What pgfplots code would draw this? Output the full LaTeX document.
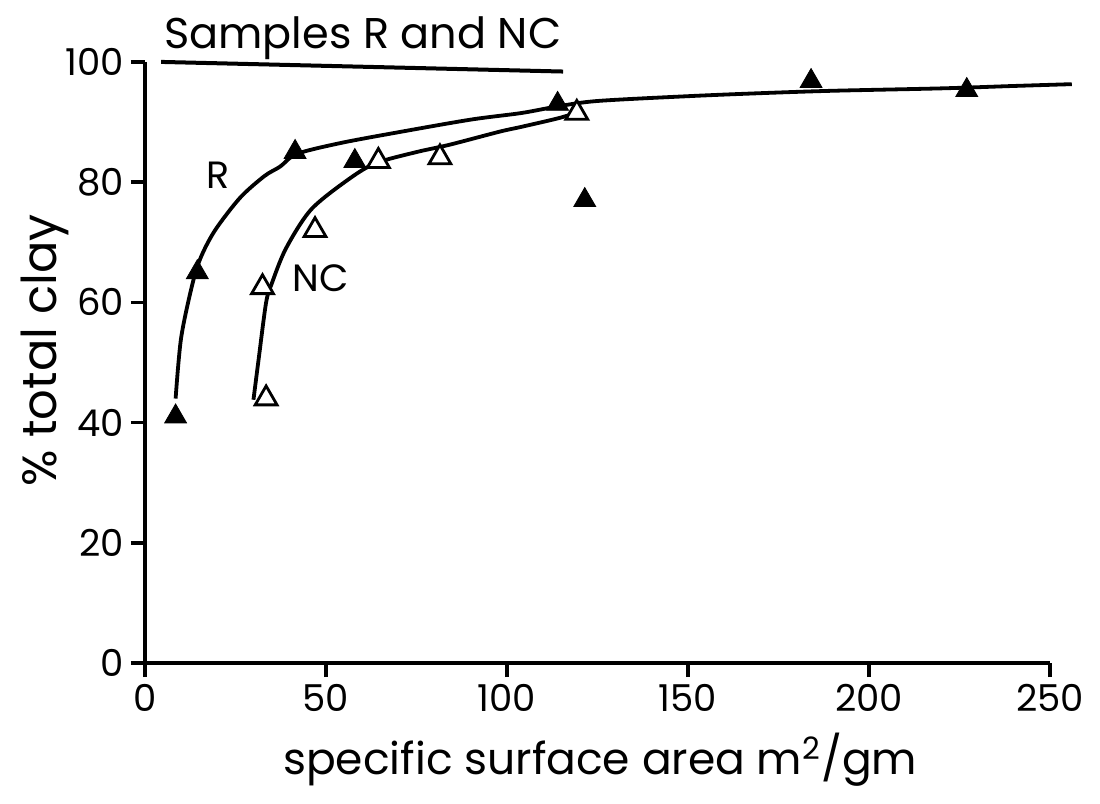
\documentclass[border=0pt]{standalone}
\usepackage{fontspec}
\setmainfont{Poppins}
\usepackage{pgfplots}
\pgfplotsset{compat=1.18}
\begin{document}
\begin{tikzpicture}
\begin{axis}[
  scale only axis, width=452.5pt, height=300.5pt,
  xmin=0, xmax=250, ymin=0, ymax=100,
  axis x line*=bottom, axis y line*=left,
  axis line style={line width=2.1pt},
  clip=false,
  xtick={0,50,...,250}, ytick={0,20,...,100},
  tick align=outside, major tick length=7pt,
  tick style={line width=1.7pt, black},
  /pgf/number format/assume math mode=true,
  ticklabel style={font=\fontsize{18.5}{20}\selectfont},
  xlabel={specific surface area m\textsuperscript{2}/gm},
  ylabel={\% total clay},
  label style={font=\fontsize{22}{26}\selectfont},
  xlabel style={at={(axis description cs:0.503,-0.105)}, anchor=north},
  ylabel style={at={(axis description cs:-0.11,0.52)}, anchor=center, font=\fontsize{24}{28}\selectfont},
]
\path (axis cs:-40,-23.3) rectangle (axis cs:263.8,110.3);
% title underline
\addplot[line width=2pt] coordinates {(4.5,100) (115.5,98.4)};
% R curve
\addplot[line width=1.9pt, smooth, tension=0.5] coordinates {
(8.5,44) (10,54) (13,62.7) (15.4,67.4) (19.4,72) (26.3,77.4) (33,81) (37.4,82.6) (42,84.7)
(54,86.5) (70,88.3) (90,90.4) (104,91.5) (114,92.6) (125,93.5) (150,94.3) (170,94.8)
(190,95.2) (220,95.6) (240,96) (256,96.3)};
% NC curve
\addplot[line width=1.9pt, smooth, tension=0.5] coordinates {
(30,43.8) (31.4,50.4) (33.5,60) (35.1,63.2) (39,69) (46,75.5) (56.8,80.7) (64,83.2)
(75,85) (84,86.2) (98,88.4) (104,89.2) (114,90.6) (119,91.5)};
% R points (filled)
\addplot[only marks, mark=triangle*, mark size=6.3pt, mark options={fill=black, draw=black}] coordinates {
(8.5,41) (14.5,65) (41.5,85) (58,83.5) (114,93) (121.5,77) (184,96.8) (227,95.3)};
% NC points (open)
\addplot[only marks, mark=triangle*, mark size=6.3pt, mark options={fill=white, draw=black, line width=1.4pt}] coordinates {
(33.5,44) (32.5,62.5) (47,72) (64.5,83.5) (81.5,84.1) (119.3,91.5)};
\node[font=\fontsize{21.5}{26}\selectfont, anchor=base] at (axis cs:60.2,102.2) {Samples R and NC};
\node[font=\fontsize{19}{22}\selectfont] at (axis cs:20.2,81.2) {R};
\node[font=\fontsize{19}{22}\selectfont] at (axis cs:48.5,64) {NC};
\end{axis}
\end{tikzpicture}
\end{document}
